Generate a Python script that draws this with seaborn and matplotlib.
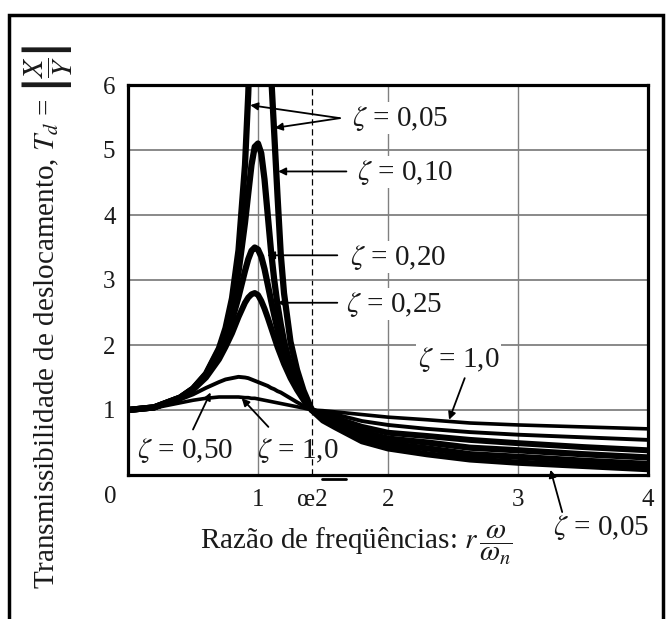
import numpy as np
import pandas as pd
import matplotlib
matplotlib.use("Agg")
import matplotlib.pyplot as plt
import seaborn as sns
from matplotlib.patches import Rectangle

# ---------------- data ----------------
r_vals = [0, 0.2, 0.4, 0.5, 0.6, 0.7, 0.75, 0.8, 0.85, 0.9, 0.925, 0.95, 0.975,
          1.0, 1.025, 1.05, 1.075, 1.1, 1.125, 1.15, 1.175, 1.2, 1.25, 1.3, 1.35,
          1.414, 1.5, 1.6, 1.8, 2.0, 2.3, 2.63, 3.0, 3.5, 4.0]

td_005 = [1.00, 1.04, 1.19, 1.33, 1.56, 1.95, 2.26, 2.72, 3.46, 4.77, 5.86, 7.36, 9.2,
          10.0, 9.6, 8.6, 7.3, 6.2, 5.25, 4.3, 3.4, 2.8, 2.05, 1.62, 1.3,
          1.00, 0.84, 0.73, 0.52, 0.41, 0.32, 0.24, 0.19, 0.14, 0.09]
td_010 = [1.00, 1.04, 1.19, 1.33, 1.55, 1.93, 2.20, 2.57, 3.12, 3.88, 4.33, 4.77, 5.05,
          5.10, 4.95, 4.55, 4.0, 3.45, 3.0, 2.62, 2.32, 2.06, 1.68, 1.41, 1.20,
          1.00, 0.87, 0.78, 0.58, 0.48, 0.41, 0.32, 0.28, 0.22, 0.17]
td_020 = [1.00, 1.04, 1.19, 1.32, 1.53, 1.85, 2.08, 2.38, 2.74, 3.14, 3.32, 3.45, 3.50,
          3.47, 3.36, 3.17, 2.93, 2.69, 2.46, 2.24, 2.04, 1.87, 1.58, 1.35, 1.18,
          1.00, 0.90, 0.83, 0.66, 0.56, 0.50, 0.42, 0.38, 0.32, 0.27]
td_025 = [1.00, 1.04, 1.18, 1.31, 1.50, 1.78, 1.97, 2.18, 2.43, 2.65, 2.73, 2.78, 2.80,
          2.77, 2.68, 2.56, 2.42, 2.27, 2.12, 1.97, 1.84, 1.71, 1.49, 1.31, 1.155,
          1.00, 0.93, 0.87, 0.74, 0.65, 0.60, 0.54, 0.49, 0.43, 0.38]
td_050 = [1.00, 1.04, 1.16, 1.24, 1.34, 1.43, 1.47, 1.49, 1.51, 1.50, 1.49, 1.47, 1.45,
          1.43, 1.41, 1.39, 1.37, 1.34, 1.32, 1.29, 1.27, 1.24, 1.18, 1.12, 1.065,
          1.00, 0.96, 0.93, 0.83, 0.77, 0.71, 0.66, 0.62, 0.58, 0.54]
td_100 = [1.00, 1.03, 1.11, 1.15, 1.18, 1.20, 1.20, 1.20, 1.20, 1.19, 1.19, 1.18, 1.18,
          1.17, 1.16, 1.15, 1.14, 1.13, 1.12, 1.11, 1.10, 1.09, 1.07, 1.05, 1.03,
          1.00, 0.99, 0.97, 0.93, 0.89, 0.85, 0.80, 0.77, 0.74, 0.71]

curve_names = ["0.05", "0.10", "0.20", "0.25", "0.50", "1.0"]
curve_values = [td_005, td_010, td_020, td_025, td_050, td_100]
curve_widths = [4.5, 4.5, 4.5, 4.3, 2.8, 2.6]

x_ticks = [0, 1, 1.414, 2, 3, 4]
x_ticklabels = ["", "1", "œ2", "2", "3", "4"]
y_ticks = [1, 2, 3, 4, 5, 6]
y_ticklabels = ["1", "2", "3", "4", "5", "6"]

# ---------------- style ----------------
sns.set_style("white")
plt.rcParams["font.family"] = ["Liberation Serif", "DejaVu Serif"]
plt.rcParams["mathtext.fontset"] = "stix"
TXT = "#1a1a1a"

fig = plt.figure(figsize=(6.72, 6.19), dpi=100)
ax = fig.add_axes([128 / 672, (619 - 475) / 619, 520 / 672, 390 / 619])

frames = []
for name, vals in zip(curve_names, curve_values):
    frames.append(pd.DataFrame({"r": r_vals, "Td": vals, "zeta": name}))
df = pd.concat(frames, ignore_index=True)

for name, lw in zip(curve_names, curve_widths):
    sub = df[df["zeta"] == name]
    sns.lineplot(data=sub, x="r", y="Td", ax=ax, color="black", lw=lw,
                 estimator=None, sort=True, legend=False, zorder=3)

ax.set_xlim(0, 4)
ax.set_ylim(0, 6)
ax.set_xticks(x_ticks)
ax.set_xticklabels(x_ticklabels, fontsize=18, color=TXT)
ax.set_yticks(y_ticks)
ax.set_yticklabels(y_ticklabels, fontsize=18, color=TXT)
ax.tick_params(axis="x", length=0, pad=10)
ax.tick_params(axis="y", length=0, pad=9)

ax.grid(True, color="#808080", lw=1.3, zorder=1)
for gl, xv in zip(ax.xaxis.get_gridlines(), x_ticks):
    if abs(xv - 1.414) < 1e-6:
        gl.set_color("black")
        gl.set_linestyle((0, (5, 3)))
        gl.set_linewidth(0.9)
    else:
        gl.set_linewidth(1.0)
ax.set_axisbelow(True)

for s in ax.spines.values():
    s.set_color("black")
    s.set_linewidth(2.3)
    s.set_zorder(5)

ax.set_xlabel(r"Razão de freqüências: $r\,\dfrac{\omega}{\omega_n}$", fontsize=21,
              color=TXT)
ax.xaxis.set_label_coords(0.44, -0.125)
ax.set_ylabel(r"Transmissibilidade de deslocamento, $T_d$ = $\left|\dfrac{X}{Y}\right|$",
              fontsize=21, color=TXT)
ax.yaxis.set_label_coords(-0.102, 0.405)

# origin "0" label and overline of the garbled sqrt label
ax.text(-0.035, -0.056, "0", transform=ax.transAxes, ha="center", va="center",
        fontsize=18, color=TXT)
ax.plot([1.49, 1.68], [-0.011, -0.011], transform=ax.get_xaxis_transform(),
        color="black", lw=2.0, clip_on=False)

# ---------------- labels and arrows ----------------
white = dict(facecolor="white", edgecolor="none", pad=1.0)
lab_fs = 21
arrow = dict(arrowstyle="-|>", color="black", lw=1.3, mutation_scale=11,
             shrinkA=0, shrinkB=0)

ax.text(1.72, 5.49, r"$\zeta$ = 0,05", fontsize=lab_fs, color=TXT, va="center",
        ha="left", bbox=white, zorder=4)
ax.annotate("", xy=(0.94, 5.69), xytext=(1.63, 5.49), arrowprops=arrow, zorder=6)
ax.annotate("", xy=(1.13, 5.34), xytext=(1.63, 5.49), arrowprops=arrow, zorder=6)

ax.text(1.76, 4.66, r"$\zeta$ = 0,10", fontsize=lab_fs, color=TXT, va="center",
        ha="left", bbox=white, zorder=4)
ax.annotate("", xy=(1.155, 4.67), xytext=(1.68, 4.67), arrowprops=arrow, zorder=6)

ax.text(1.71, 3.35, r"$\zeta$ = 0,20", fontsize=lab_fs, color=TXT, va="center",
        ha="left", bbox=white, zorder=4)
ax.annotate("", xy=(1.07, 3.38), xytext=(1.61, 3.38), arrowprops=arrow, zorder=6)

ax.text(1.68, 2.63, r"$\zeta$ = 0,25", fontsize=lab_fs, color=TXT, va="center",
        ha="left", bbox=white, zorder=4)
ax.annotate("", xy=(1.15, 2.65), xytext=(1.61, 2.65), arrowprops=arrow, zorder=6)

ax.text(2.23, 1.78, r"$\zeta$ = 1,0", fontsize=lab_fs, color=TXT, va="center",
        ha="left", bbox=white, zorder=4)
ax.annotate("", xy=(2.47, 0.85), xytext=(2.59, 1.49), arrowprops=arrow, zorder=6)

ax.text(0.07, 0.38, r"$\zeta$ = 0,50", fontsize=lab_fs, color=TXT, va="center",
        ha="left", zorder=4)
ax.annotate("", xy=(0.635, 1.27), xytext=(0.50, 0.70), arrowprops=arrow, zorder=6)

ax.text(0.99, 0.38, r"$\zeta$ = 1,0", fontsize=lab_fs, color=TXT, va="center",
        ha="left", zorder=4)
ax.annotate("", xy=(0.875, 1.18), xytext=(1.08, 0.74), arrowprops=arrow, zorder=6)

ax.text(3.27, -0.80, r"$\zeta$ = 0,05", fontsize=lab_fs, color=TXT, va="center",
        ha="left", zorder=4, clip_on=False)
ax.annotate("", xy=(3.25, 0.08), xytext=(3.34, -0.57), arrowprops=arrow, zorder=6,
            annotation_clip=False)

# outer frame
fig.add_artist(Rectangle((9 / 672, -0.05), 654 / 672, (619 - 15) / 619 + 0.05,
                         transform=fig.transFigure, fill=False, lw=2.5,
                         edgecolor="black"))

fig.savefig("out.png", dpi=100)
